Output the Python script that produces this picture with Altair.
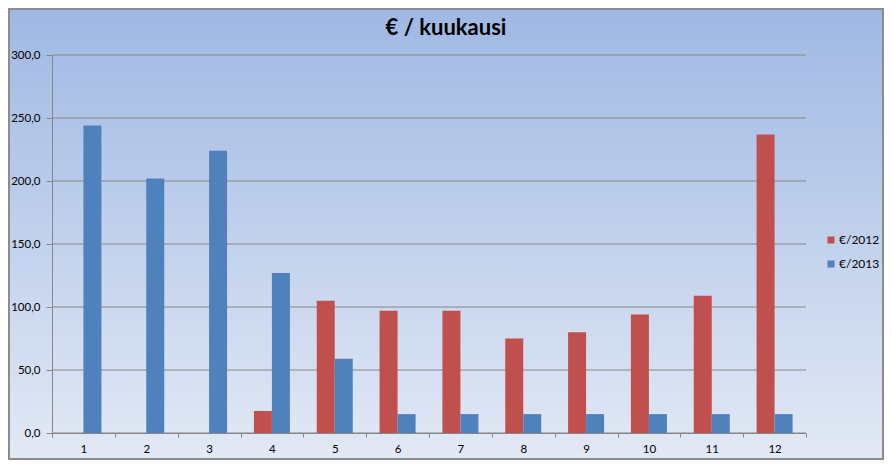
import altair as alt
import pandas as pd

months = [1, 2, 3, 4, 5, 6, 7, 8, 9, 10, 11, 12]
series_names = ["€/2012", "€/2013"]
eur_2012 = [None, None, None, 17.5, 105, 97, 97, 75, 80, 94, 109, 237]
eur_2013 = [244, 202, 224, 127, 59, 15, 15, 15, 15, 15, 15, 15]
y_ticks = [0, 50, 100, 150, 200, 250, 300]
colors = ["#C0504D", "#4F81BD"]
title_text = ["€ / kuukausi"]

rows = []
for m, a, b in zip(months, eur_2012, eur_2013):
    rows.append({"month": m, "series": series_names[0], "value": a})
    rows.append({"month": m, "series": series_names[1], "value": b})
df = pd.DataFrame(rows)

W, H = 754, 378
PAD = {"left": 44, "top": 47, "right": 78, "bottom": 27}
FONT = "Lato"
GRID = "#868686"

bg = alt.Chart(pd.DataFrame({"k": [0]})).mark_rect(
    color=alt.LinearGradient(
        gradient="linear",
        stops=[alt.GradientStop(color="#9fb8e3", offset=0),
               alt.GradientStop(color="#e3e9f5", offset=1)],
        x1=0, x2=0, y1=0, y2=1),
    stroke="#8c8c8c", strokeWidth=2,
).encode(
    x=alt.value(-PAD["left"] + 1), x2=alt.value(W + PAD["right"] - 1),
    y=alt.value(-PAD["top"] + 1), y2=alt.value(H + PAD["bottom"] - 1),
)

title = alt.Chart(pd.DataFrame({"t": title_text})).mark_text(
    font=FONT, fontSize=22, fontWeight="bold", color="#000000",
    align="center", baseline="alphabetic",
).encode(text="t:N", x=alt.value(394), y=alt.value(-20))

grid = alt.Chart(pd.DataFrame({"v": y_ticks})).mark_rule(color=GRID, strokeWidth=1).encode(
    y=alt.Y("v:Q", scale=alt.Scale(domain=[0, 300], nice=False)),
    x=alt.value(0), x2=alt.value(W),
)

bars = alt.Chart(df).transform_filter("isValid(datum.value)").mark_bar().encode(
    x=alt.X("month:O", sort=months,
            scale=alt.Scale(paddingInner=0, paddingOuter=0),
            axis=alt.Axis(title=None, labelAngle=0, tickBand="extent", tickSize=4,
                          tickColor=GRID, domainColor=GRID, labelPadding=6,
                          labelFont=FONT, labelFontSize=11.5, labelColor="#000000",
                          grid=False, zindex=1)),
    xOffset=alt.XOffset("series:N", scale=alt.Scale(domain=series_names,
                                                    paddingInner=0, paddingOuter=0.745)),
    y=alt.Y("value:Q", scale=alt.Scale(domain=[0, 300], nice=False),
            axis=alt.Axis(title=None, values=y_ticks, tickSize=6, tickColor=GRID,
                          domainColor=GRID, labelPadding=6, grid=False,
                          labelExpr="replace(format(datum.value, '.1f'), '.', ',')",
                          labelFont=FONT, labelFontSize=11.5, labelColor="#000000",
                          zindex=1)),
    color=alt.Color("series:N", scale=alt.Scale(domain=series_names, range=colors),
                    legend=alt.Legend(title=None, orient="none", legendX=773, legendY=179,
                                      symbolType="square", symbolSize=49,
                                      symbolStrokeWidth=0, labelFont=FONT,
                                      labelFontSize=12, labelColor="#000000",
                                      rowPadding=12, labelOffset=2)),
)

chart = alt.layer(bg, title, grid, bars).properties(
    width=W, height=H,
    autosize=alt.AutoSizeParams(type="none"),
    padding=PAD,
).configure_view(stroke=None).configure(background="#ffffff")

chart.save("out.html", embed_options={"renderer": "svg", "actions": False})
